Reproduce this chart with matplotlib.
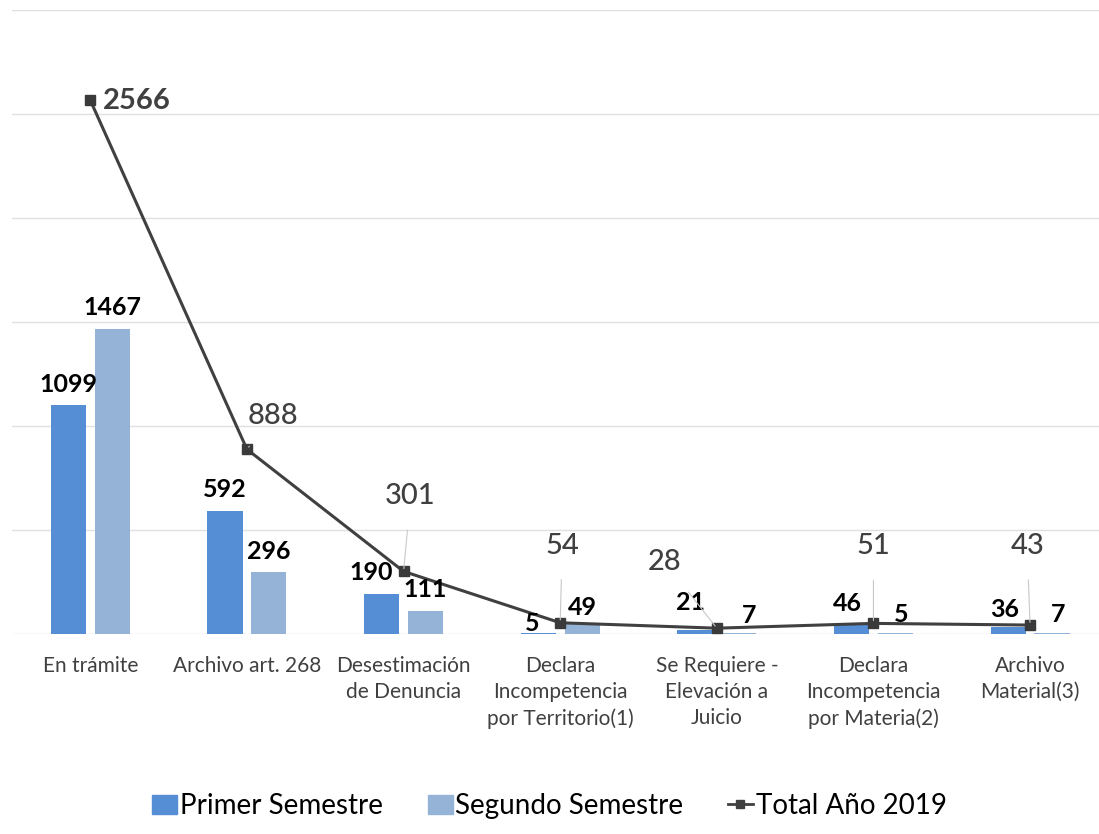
import matplotlib
matplotlib.use('Agg')
import matplotlib.pyplot as plt
from matplotlib.lines import Line2D
from matplotlib.patches import Patch
import numpy as np

plt.rcParams['font.family'] = ['Lato', 'DejaVu Sans']

categories = ["En trámite", "Archivo art. 268", "Desestimación\nde Denuncia",
              "Declara\nIncompetencia\npor Territorio(1)", "Se Requiere -\nElevación a\nJuicio",
              "Declara\nIncompetencia\npor Materia(2)", "Archivo\nMaterial(3)"]
primer = [1099, 592, 190, 5, 21, 46, 36]
segundo = [1467, 296, 111, 49, 7, 5, 7]
total = [2566, 888, 301, 54, 28, 51, 43]

# label offsets in pixels (dx, dy) relative to the bar top / marker
primer_off = [(0, 21), (0, 21), (-10, 22), (-6, 9), (-4, 27), (-4, 21), (-4, 17)]
segundo_off = [(0, 21), (0, 21), (0, 21), (0, 16), (10, 17), (6, 18), (6, 18)]
total_off = [(46, -1), (26, 33), (7, 75), (2, 77), (-52, 66), (0, 77), (-3, 79)]
total_leader = [False, True, True, True, True, True, True]

c1 = "#558ed5"
c2 = "#95b3d7"
cl = "#404040"

fig = plt.figure(figsize=(10.99, 8.34), dpi=100)
ax = fig.add_axes([12 / 1099, 1 - 634 / 834, 1 - 12 / 1099, (634 - 10) / 834])

x = np.arange(len(categories))
w = 0.224
off = 0.14
ax.bar(x - off, primer, w, color=c1, zorder=2)
ax.bar(x + off, segundo, w, color=c2, zorder=2)
ax.plot(x, total, color=cl, lw=2.2, marker='s', ms=7, mfc="#3a3a3a", mec="#3a3a3a", zorder=3)

ax.set_ylim(0, 3000)
ax.set_xlim(-0.5, 6.44)
ax.set_yticks(np.arange(0, 3001, 500))
ax.yaxis.grid(True, color="#e0e0e0", lw=1)
ax.set_axisbelow(True)
for s in ax.spines.values():
    s.set_visible(False)
ax.tick_params(left=False, bottom=False, labelleft=False)
ax.set_xticks(x)
ax.set_xticklabels(categories, fontsize=15, color=cl, linespacing=1.38)
ax.tick_params(axis='x', pad=12)

for i in range(len(categories)):
    ax.annotate(str(primer[i]), (x[i] - off, primer[i]), xytext=primer_off[i],
                textcoords='offset pixels', ha='center', va='center',
                fontsize=18, fontweight='bold', color='black', zorder=4)
    ax.annotate(str(segundo[i]), (x[i] + off, segundo[i]), xytext=segundo_off[i],
                textcoords='offset pixels', ha='center', va='center',
                fontsize=18, fontweight='bold', color='black', zorder=4)
    ap = dict(arrowstyle='-', color='#c8c8c8', lw=0.8, shrinkA=13, shrinkB=2) if total_leader[i] else None
    ax.annotate(str(total[i]), (x[i], total[i]), xytext=total_off[i],
                textcoords='offset pixels', ha='center', va='center',
                fontsize=21, fontweight='bold' if i == 0 else 'medium',
                color=cl, arrowprops=ap, zorder=4)

handles = [Patch(color=c1, label="Primer Semestre"),
           Patch(color=c2, label="Segundo Semestre"),
           Line2D([], [], color=cl, lw=2, marker='s', ms=6, label="Total Año 2019")]
fig.legend(handles=handles, loc='center', bbox_to_anchor=(0.5, 1 - 806 / 834), ncol=3,
           frameon=False, fontsize=20, handlelength=0.9, handletextpad=0.1,
           columnspacing=1.6, labelcolor='black')

fig.savefig("out.png", dpi=100)
